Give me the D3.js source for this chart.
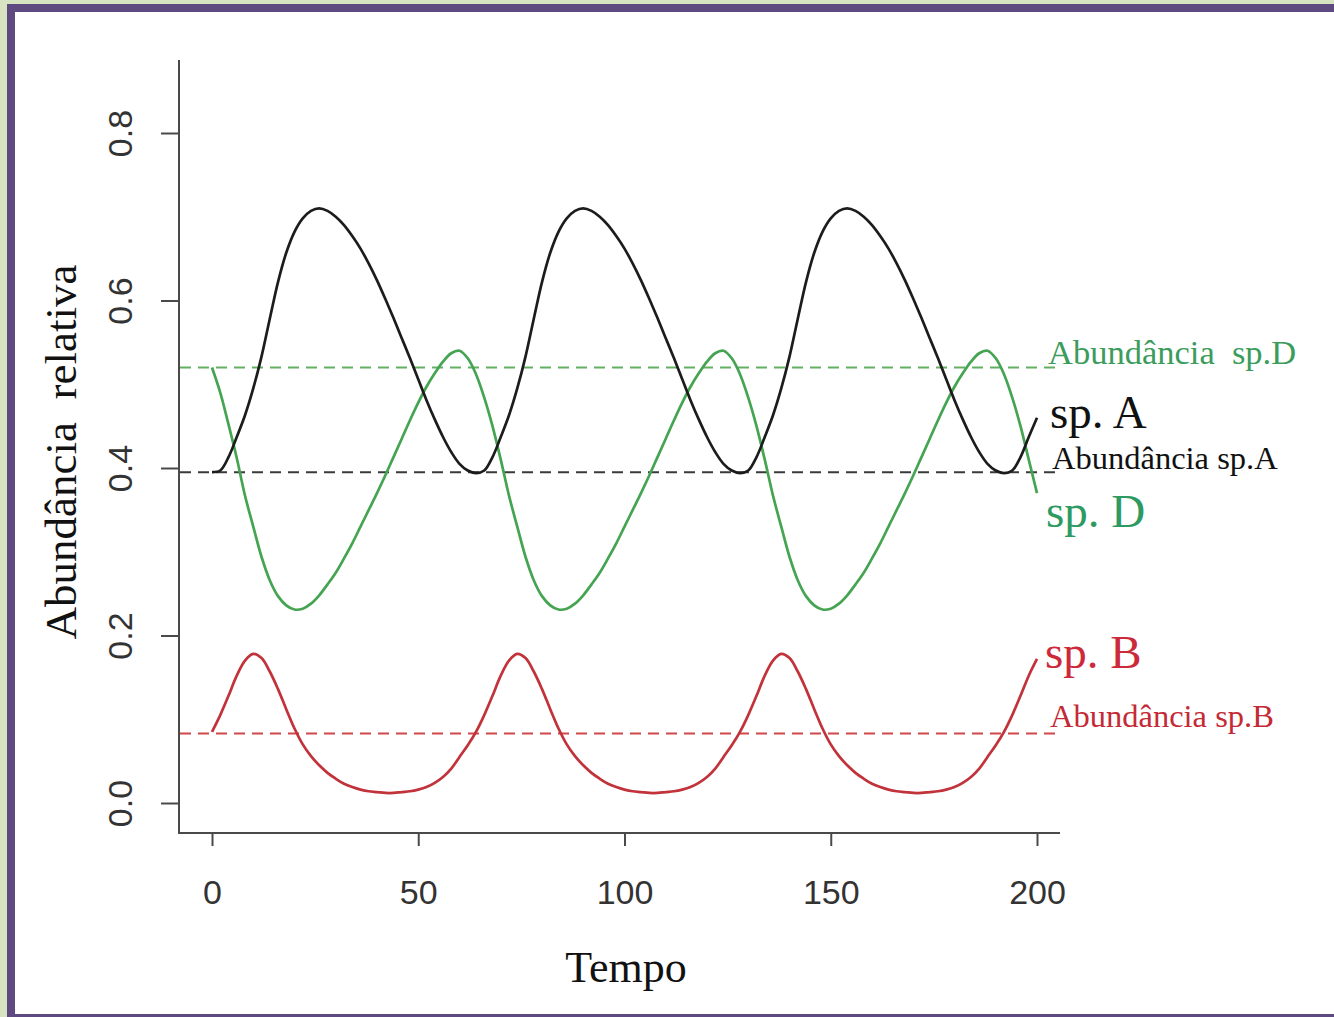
<!DOCTYPE html>
<html>
<head>
<meta charset="utf-8">
<script src="https://cdn.jsdelivr.net/npm/d3@7"></script>
<style>
  html, body { margin: 0; padding: 0; background: #d7e3c1; }
  svg { display: block; }
</style>
</head>
<body>
<svg id="chart" width="1334" height="1017"></svg>
<script>
// time steps (every 2 units, 0..200)
const tempo = d3.range(0, 201, 2);

// sp. A (black)
const spA = [
  0.395,0.397,0.413,0.437,0.463,0.495,0.533,0.578,0.622,0.657,0.682,0.698,0.707,0.710,0.707,0.700,
  0.690,0.677,0.662,0.644,0.624,0.602,0.579,0.555,0.531,0.506,0.481,0.458,0.437,0.419,0.405,0.397,
  0.394,0.397,0.413,0.437,0.463,0.495,0.533,0.578,0.622,0.657,0.682,0.698,0.707,0.710,0.707,0.700,
  0.690,0.677,0.662,0.644,0.624,0.602,0.579,0.555,0.531,0.506,0.481,0.458,0.437,0.419,0.405,0.397,
  0.394,0.397,0.413,0.437,0.463,0.495,0.533,0.578,0.622,0.657,0.682,0.698,0.707,0.710,0.707,0.700,
  0.690,0.677,0.662,0.644,0.624,0.602,0.579,0.555,0.531,0.506,0.481,0.458,0.437,0.419,0.405,0.397,
  0.394,0.397,0.413,0.437,0.460
];

// sp. D (green)
const spD = [
  0.520,0.490,0.452,0.412,0.367,0.330,0.294,0.266,0.247,0.236,0.231,0.232,0.238,0.248,0.261,0.275,
  0.292,0.310,0.330,0.350,0.370,0.391,0.413,0.435,0.457,0.478,0.497,0.513,0.527,0.537,0.540,0.531,
  0.512,0.484,0.450,0.410,0.367,0.330,0.294,0.266,0.247,0.236,0.231,0.232,0.238,0.248,0.261,0.275,
  0.292,0.310,0.330,0.350,0.370,0.391,0.413,0.435,0.457,0.478,0.497,0.513,0.527,0.537,0.540,0.531,
  0.512,0.484,0.450,0.410,0.367,0.330,0.294,0.266,0.247,0.236,0.231,0.232,0.238,0.248,0.261,0.275,
  0.292,0.310,0.330,0.350,0.370,0.391,0.413,0.435,0.457,0.478,0.497,0.513,0.527,0.537,0.540,0.531,
  0.512,0.484,0.450,0.410,0.370
];

// sp. B (red)
const spB = [
  0.085,0.105,0.128,0.152,0.170,0.178,0.173,0.157,0.136,0.112,0.089,0.070,0.056,0.045,0.036,0.029,
  0.023,0.019,0.016,0.014,0.013,0.012,0.012,0.013,0.014,0.016,0.019,0.024,0.031,0.041,0.055,0.069,
  0.085,0.105,0.128,0.152,0.170,0.178,0.173,0.157,0.136,0.112,0.089,0.070,0.056,0.045,0.036,0.029,
  0.023,0.019,0.016,0.014,0.013,0.012,0.012,0.013,0.014,0.016,0.019,0.024,0.031,0.041,0.055,0.069,
  0.085,0.105,0.128,0.152,0.170,0.178,0.173,0.157,0.136,0.112,0.089,0.070,0.056,0.045,0.036,0.029,
  0.023,0.019,0.016,0.014,0.013,0.012,0.012,0.013,0.014,0.016,0.019,0.024,0.031,0.041,0.055,0.069,
  0.085,0.105,0.128,0.152,0.172
];

// equilibrium abundances (dashed lines)
const equilibria = [
  { name: "D", value: 0.52 },
  { name: "A", value: 0.395 },
  { name: "B", value: 0.083 },
];

const xTicks = [0, 50, 100, 150, 200];
const yTicks = [0.0, 0.2, 0.4, 0.6, 0.8];

const colors = { A: "#1c1c1c", D: "#45a452", B: "#c2323a" };
const dashColors = { A: "#3a3a3a", D: "#63b063", B: "#d04848" };

const svg = d3.select("#chart");
const serif = "'Liberation Serif', 'Times New Roman', serif";
const sans = "'Liberation Sans', Arial, sans-serif";

// frame
svg.append("rect").attr("x", 0).attr("y", 0).attr("width", 1334).attr("height", 1017).attr("fill", "#d7e3c1");
svg.append("rect").attr("x", 7).attr("y", 4).attr("width", 1327).attr("height", 1013).attr("fill", "#5e4a80");
svg.append("rect").attr("x", 15).attr("y", 12).attr("width", 1319).attr("height", 1002).attr("fill", "#ffffff");

const x = d3.scaleLinear().domain([0, 200]).range([212, 1037]);
const y = d3.scaleLinear().domain([0, 0.8]).range([803, 133]);

const plot = { left: 179, right: 1060, top: 60, bottom: 833 };

// L-shaped box
svg.append("path")
  .attr("d", `M${plot.left},${plot.top}V${plot.bottom}H${plot.right}`)
  .attr("fill", "none")
  .attr("stroke", "#4a4a4a")
  .attr("stroke-width", 2);

// x axis
const xAxis = svg.append("g")
  .attr("transform", `translate(0,${plot.bottom})`)
  .call(d3.axisBottom(x).tickValues(xTicks).tickSize(13).tickPadding(44).tickFormat(d3.format("d")));
xAxis.select(".domain").remove();
xAxis.selectAll("line").attr("stroke", "#4a4a4a").attr("stroke-width", 2);
xAxis.selectAll("text")
  .attr("font-family", sans)
  .attr("font-size", 34)
  .attr("fill", "#333")
  .attr("dy", "0.4em");

// y axis
const yAxis = svg.append("g")
  .attr("transform", `translate(${plot.left},0)`)
  .call(d3.axisLeft(y).tickValues(yTicks).tickSize(18).tickFormat(d3.format(".1f")));
yAxis.select(".domain").remove();
yAxis.selectAll("line").attr("stroke", "#4a4a4a").attr("stroke-width", 2);
yAxis.selectAll("text")
  .attr("font-family", sans)
  .attr("font-size", 34)
  .attr("fill", "#333")
  .attr("text-anchor", "middle")
  .attr("x", null)
  .attr("dy", null)
  .attr("transform", "translate(-56,0) rotate(-90)")
  .attr("y", 0)
  .attr("dominant-baseline", "middle");

// dashed equilibrium lines
svg.append("g")
  .selectAll("line")
  .data(equilibria)
  .join("line")
  .attr("x1", plot.left + 1)
  .attr("x2", plot.right)
  .attr("y1", (d) => y(d.value))
  .attr("y2", (d) => y(d.value))
  .attr("stroke", (d) => dashColors[d.name])
  .attr("stroke-width", 2)
  .attr("stroke-dasharray", "11,7");

// curves
const series = [
  { name: "D", values: spD },
  { name: "B", values: spB },
  { name: "A", values: spA },
];

const line = d3.line()
  .x((d, i) => x(tempo[i]))
  .y((d) => y(d))
  .curve(d3.curveCatmullRom);

svg.append("g")
  .selectAll("path")
  .data(series)
  .join("path")
  .attr("d", (d) => line(d.values))
  .attr("fill", "none")
  .attr("stroke", (d) => colors[d.name])
  .attr("stroke-width", 2.7);

// axis titles
svg.append("text")
  .attr("x", 626)
  .attr("y", 982)
  .attr("text-anchor", "middle")
  .attr("font-family", serif)
  .attr("font-size", 44)
  .attr("fill", "#111")
  .text("Tempo");

svg.append("text")
  .attr("transform", "translate(76,452) rotate(-90)")
  .attr("text-anchor", "middle")
  .attr("font-family", serif)
  .attr("font-size", 45)
  .attr("fill", "#111")
  .attr("xml:space", "preserve")
  .text("Abundância  relativa");

// right-hand annotations
const labels = [
  { text: "Abundância  sp.D", x: 1048, y: 364, size: 34.5, color: "#3c9c5c" },
  { text: "sp. A", x: 1050, y: 428, size: 47, color: "#111" },
  { text: "Abundância sp.A", x: 1052, y: 469, size: 32.5, color: "#111" },
  { text: "sp. D", x: 1046, y: 527, size: 47, color: "#2e9a62" },
  { text: "sp. B", x: 1045, y: 668, size: 47, color: "#cc2a3a" },
  { text: "Abundância sp.B", x: 1050, y: 727, size: 32.5, color: "#c42a36" },
];

svg.append("g")
  .selectAll("text")
  .data(labels)
  .join("text")
  .attr("x", (d) => d.x)
  .attr("y", (d) => d.y)
  .attr("font-family", serif)
  .attr("font-size", (d) => d.size)
  .attr("fill", (d) => d.color)
  .attr("xml:space", "preserve")
  .text((d) => d.text);
</script>
</body>
</html>
